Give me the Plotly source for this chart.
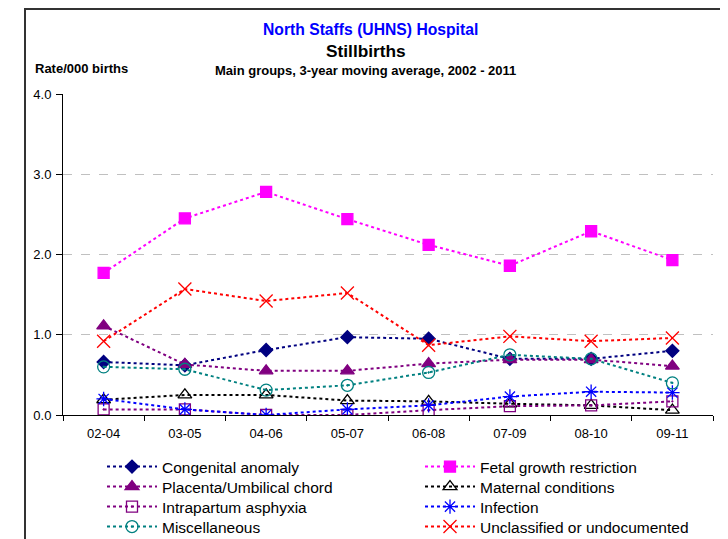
import plotly.graph_objects as go

periods = ["02-04", "03-05", "04-06", "05-07", "06-08", "07-09", "08-10", "09-11"]

congenital = [0.66, 0.62, 0.81, 0.97, 0.95, 0.70, 0.70, 0.80]
fetal = [1.77, 2.45, 2.78, 2.44, 2.12, 1.86, 2.29, 1.93]
placenta = [1.11, 0.63, 0.55, 0.55, 0.64, 0.69, 0.69, 0.61]
maternal = [0.19, 0.25, 0.25, 0.18, 0.17, 0.14, 0.12, 0.06]
intrapartum = [0.07, 0.07, 0.00, 0.00, 0.06, 0.11, 0.12, 0.17]
infection = [0.20, 0.07, 0.00, 0.07, 0.12, 0.23, 0.29, 0.28]
misc = [0.60, 0.57, 0.31, 0.37, 0.53, 0.75, 0.70, 0.40]
unclassified = [0.92, 1.57, 1.42, 1.52, 0.87, 0.98, 0.92, 0.96]

series = [
    ("Congenital anomaly", congenital, "#000080", "diamond", 10),
    ("Fetal growth restriction", fetal, "#FF00FF", "square", 11),
    ("Placenta/Umbilical chord", placenta, "#800080", "triangle-up", 12),
    ("Maternal conditions", maternal, "#000000", "triangle-up-open", 12),
    ("Intrapartum asphyxia", intrapartum, "#800080", "square-open-dot", 11),
    ("Infection", infection, "#0000FF", "asterisk-open", 12),
    ("Miscellaneous", misc, "#008080", "circle-open-dot", 12),
    ("Unclassified or undocumented", unclassified, "#FF0000", "x-thin-open", 13),
]

F = "Liberation Sans, Arial, sans-serif"
OFF = 8  # page body margin
W, H = 720, 531
L, R, T, B = 63 - OFF, 15, 94 - OFF, 124
pw = W - L - R
ph = H - T - B

def px(x):
    return (x - OFF - L) / pw

def py(y):
    return (H - B - (y - OFF)) / ph

legend_names = ["legend", "legend2", "legend3", "legend4"]

fig = go.Figure()
for i, (name, vals, color, sym, size) in enumerate(series):
    fig.add_trace(go.Scatter(
        x=periods, y=vals, name=name, mode="lines+markers",
        line=dict(color=color, width=2, dash="dot"),
        marker=dict(symbol=sym, size=size, color=color,
                    line=dict(color=color, width=1.3)),
        legend=legend_names[i // 2],
    ))

def legend_cfg(row_center):
    return dict(
        orientation="h", x=px(102), y=py(row_center - 17), xanchor="left", yanchor="top",
        entrywidth=253, entrywidthmode="pixels", itemwidth=50,
        font=dict(family=F, size=15.5, color="black"),
        bgcolor="rgba(0,0,0,0)", tracegroupgap=0, visible=True,
    )

fig.update_layout(
    width=W, height=H,
    margin=dict(l=L, r=R, t=T, b=B, autoexpand=False),
    paper_bgcolor="white", plot_bgcolor="white",
    font=dict(family=F, size=13, color="black"),
    showlegend=True,
    legend=legend_cfg(467),
    legend2=legend_cfg(487),
    legend3=legend_cfg(507),
    legend4=legend_cfg(527),
    xaxis=dict(
        type="category", tickson="boundaries", ticks="outside", ticklen=5,
        showline=True, linecolor="black", linewidth=1, tickcolor="black",
        showgrid=False, tickfont=dict(size=13), range=[-0.5, 7.5],
        ticklabelstandoff=6,
    ),
    yaxis=dict(
        range=[0, 4], dtick=1, tickformat=".1f", ticks="outside", ticklen=6,
        showline=True, linecolor="black", linewidth=1, tickcolor="black",
        showgrid=True, gridcolor="#C0C0C0", griddash="dash", gridwidth=1,
        zeroline=False, tickfont=dict(size=13), ticklabelstandoff=2,
    ),
)

fig.add_annotation(text="<b>North Staffs (UHNS) Hospital</b>", xref="paper", yref="paper",
                   x=px(370.5), y=py(29), showarrow=False, font=dict(size=15.7, color="#0000FF", family=F),
                   xanchor="center", yanchor="middle")
fig.add_annotation(text="<b>Stillbirths</b>", xref="paper", yref="paper",
                   x=px(366), y=py(51), showarrow=False, font=dict(size=17.3, color="black", family=F),
                   xanchor="center", yanchor="middle")
fig.add_annotation(text="<b>Main groups, 3-year moving average, 2002 - 2011</b>", xref="paper", yref="paper",
                   x=px(365.6), y=py(70), showarrow=False, font=dict(size=13, color="black", family=F),
                   xanchor="center", yanchor="middle")
fig.add_annotation(text="<b>Rate/000 births</b>", xref="paper", yref="paper",
                   x=px(33), y=py(68), showarrow=False, font=dict(size=13, color="black", family=F),
                   xanchor="left", yanchor="middle")

# outer chart border
fig.add_shape(type="rect", xref="paper", yref="paper",
              x0=px(25), y0=py(580), x1=px(780), y1=py(9),
              line=dict(color="#333333", width=2), fillcolor="rgba(0,0,0,0)", layer="below")

fig.write_html("out.html")
